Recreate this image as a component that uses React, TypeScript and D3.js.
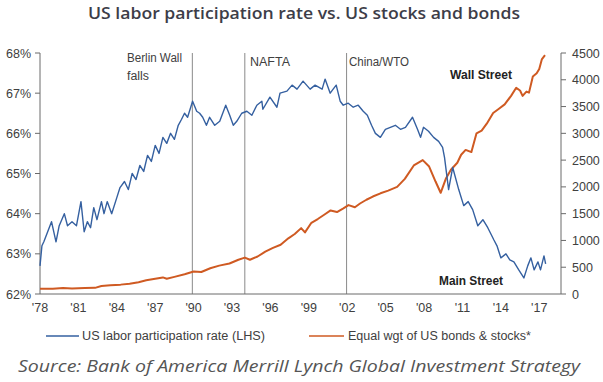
import React from "react";
import * as d3 from "d3";

const W = 603;
const H = 382;

const xTickYears = [1978, 1981, 1984, 1987, 1990, 1993, 1996, 1999, 2002, 2005, 2008, 2011, 2014, 2017];
const xTickLabels = ["'78", "'81", "'84", "'87", "'90", "'93", "'96", "'99", "'02", "'05", "'08", "'11", "'14", "'17"];
const leftTicks = [62, 63, 64, 65, 66, 67, 68];
const rightTicks = [0, 500, 1000, 1500, 2000, 2500, 3000, 3500, 4000, 4500];

const eventYears = [1989.9, 1994.0, 2001.95];

// US labor participation rate (%), [year, value]
const laborRate: [number, number][] = [
  [1978.0, 62.7], [1978.15, 63.2], [1978.3, 63.3], [1978.6, 63.55], [1978.9, 63.8],
  [1979.25, 63.3], [1979.5, 63.7], [1979.9, 64.0], [1980.15, 63.7], [1980.5, 63.8],
  [1980.85, 63.7], [1981.2, 64.3], [1981.45, 63.55], [1981.7, 63.8], [1981.95, 63.65],
  [1982.2, 64.15], [1982.45, 63.85], [1982.8, 64.3], [1983.0, 64.0], [1983.25, 64.3],
  [1983.6, 64.0], [1984.0, 64.4], [1984.25, 64.65], [1984.6, 64.8], [1984.9, 64.6],
  [1985.2, 65.0], [1985.5, 64.85], [1985.8, 65.2], [1986.1, 65.05], [1986.4, 65.45],
  [1986.7, 65.3], [1987.0, 65.7], [1987.3, 65.5], [1987.6, 65.9], [1987.9, 65.75],
  [1988.2, 66.0], [1988.5, 65.85], [1988.8, 66.2], [1989.06, 66.35], [1989.29, 66.5],
  [1989.53, 66.4], [1989.92, 66.8], [1990.24, 66.55], [1990.47, 66.5], [1990.71, 66.4],
  [1991.0, 66.2], [1991.25, 66.4], [1991.65, 66.2], [1992.04, 66.3], [1992.51, 66.7],
  [1992.82, 66.45], [1993.1, 66.2], [1993.37, 66.3], [1993.76, 66.5], [1994.16, 66.55],
  [1994.55, 66.45], [1994.94, 66.7], [1995.33, 66.8], [1995.41, 66.6], [1995.96, 66.9],
  [1996.51, 66.65], [1996.75, 67.0], [1997.29, 67.05], [1997.69, 67.2], [1998.08, 67.1],
  [1998.55, 67.3], [1999.1, 67.1], [1999.49, 67.2], [2000.04, 67.1], [2000.27, 67.35],
  [2000.67, 67.0], [2000.9, 67.1], [2001.14, 67.2], [2001.45, 66.8], [2001.69, 66.7],
  [2002.08, 66.75], [2002.47, 66.65], [2002.86, 66.7], [2003.25, 66.55], [2003.57, 66.45],
  [2003.9, 66.2], [2004.2, 66.0], [2004.59, 65.9], [2004.98, 66.1], [2005.37, 66.15],
  [2005.76, 66.2], [2006.16, 66.1], [2006.55, 66.15], [2007.1, 66.4], [2007.49, 66.1],
  [2007.73, 65.9], [2007.96, 66.15], [2008.35, 66.05], [2008.75, 65.9], [2009.14, 65.8],
  [2009.45, 65.65], [2009.6, 65.4], [2009.92, 64.6], [2010.24, 65.15], [2010.71, 64.6],
  [2011.1, 64.2], [2011.45, 64.3], [2011.8, 64.1], [2012.2, 63.7], [2012.6, 63.85],
  [2012.98, 63.65], [2013.45, 63.35], [2013.7, 63.2], [2014.0, 62.9], [2014.4, 63.0],
  [2014.7, 62.85], [2015.02, 62.8], [2015.4, 62.6], [2015.8, 62.4], [2016.1, 62.7],
  [2016.35, 62.9], [2016.6, 62.6], [2016.9, 62.8], [2017.1, 62.6], [2017.37, 62.95],
  [2017.5, 62.75],
];

// Equal weight of US bonds & stocks index, [year, value]
const bondsStocks: [number, number][] = [
  [1978.0, 100], [1979.0, 100], [1979.8, 110], [1980.5, 105], [1981.5, 110],
  [1982.3, 115], [1982.8, 150], [1983.5, 165], [1984.3, 175], [1985.0, 190],
  [1985.7, 220], [1986.3, 255], [1987.0, 285], [1987.6, 310], [1987.9, 285],
  [1988.5, 320], [1989.3, 370], [1990.0, 420], [1990.6, 410], [1991.3, 480],
  [1992.0, 530], [1992.8, 570], [1993.5, 640], [1994.0, 680], [1994.4, 640],
  [1995.0, 700], [1995.6, 790], [1996.2, 860], [1996.8, 920], [1997.4, 1040],
  [1997.9, 1120], [1998.4, 1230], [1998.7, 1150], [1999.2, 1330], [1999.7, 1400],
  [2000.2, 1480], [2000.7, 1560], [2001.2, 1530], [2001.7, 1600], [2002.1, 1660],
  [2002.6, 1620], [2003.0, 1690], [2003.5, 1760], [2004.0, 1820], [2004.6, 1880],
  [2005.2, 1930], [2005.9, 2000], [2006.5, 2150], [2007.2, 2400], [2007.9, 2500],
  [2008.4, 2380], [2008.9, 2100], [2009.3, 1890], [2009.7, 2150], [2010.1, 2320],
  [2010.6, 2450], [2010.9, 2600], [2011.25, 2690], [2011.7, 2650], [2012.1, 3000],
  [2012.5, 3050], [2012.9, 3180], [2013.4, 3380], [2013.8, 3450], [2014.3, 3540],
  [2014.8, 3700], [2015.2, 3850], [2015.5, 3800], [2015.7, 3700], [2016.0, 3780],
  [2016.2, 3760], [2016.5, 4060], [2016.8, 4120], [2017.0, 4200], [2017.2, 4380],
  [2017.45, 4460],
];

const seriesNames = ["US labor participation rate (LHS)", "Equal wgt of US bonds & stocks*"];
const eventLabels = [["Berlin Wall", "falls"], ["NAFTA"], ["China/WTO"]];

const BLUE = "#3560a0";
const ORANGE = "#cf5a22";
const AXIS = "#6a6a6a";
const TEXT = "#404040";
const SANS = "'Liberation Sans', Arial, sans-serif";

export default function App() {
  const left = 40, right = 561, top = 53, bottom = 294;
  const x = d3.scaleLinear().domain([1978, 2018.7]).range([left, right]);
  const yL = d3.scaleLinear().domain([62, 68]).range([bottom, top]);
  const yR = d3.scaleLinear().domain([0, 4500]).range([bottom, top]);

  const blueLine = d3.line<[number, number]>().x(d => x(d[0])).y(d => yL(d[1]))(laborRate) || "";
  const orangeLine = d3.line<[number, number]>().x(d => x(d[0])).y(d => yR(d[1]))(bondsStocks) || "";

  return (
    <svg width={W} height={H} style={{ position: "absolute", left: 0, top: 0, background: "#fff" }}>
      <text x={304} y={19} textAnchor="middle" fontFamily="'Open Sans', sans-serif" fontWeight={600}
        fontSize={17} fill="#3d3d48" textLength={432} lengthAdjust="spacingAndGlyphs">
        US labor participation rate vs. US stocks and bonds
      </text>

      {/* event lines */}
      {eventYears.map((yr, i) => (
        <line key={i} x1={x(yr)} x2={x(yr)} y1={top} y2={bottom} stroke="#8a8a8a" strokeWidth={1} />
      ))}
      <text x={127} y={62} fontFamily={SANS} fontSize={12} fill={TEXT} textLength={55} lengthAdjust="spacingAndGlyphs">{eventLabels[0][0]}</text>
      <text x={127} y={80} fontFamily={SANS} fontSize={12} fill={TEXT} textLength={22} lengthAdjust="spacingAndGlyphs">{eventLabels[0][1]}</text>
      <text x={250} y={66} fontFamily={SANS} fontSize={12} fill={TEXT} textLength={40} lengthAdjust="spacingAndGlyphs">{eventLabels[1][0]}</text>
      <text x={349} y={66} fontFamily={SANS} fontSize={12} fill={TEXT} textLength={60} lengthAdjust="spacingAndGlyphs">{eventLabels[2][0]}</text>

      {/* axes */}
      <line x1={left} x2={right} y1={bottom} y2={bottom} stroke={AXIS} strokeWidth={1} />
      <line x1={left} x2={left} y1={top} y2={bottom} stroke={AXIS} strokeWidth={1} />
      <line x1={right} x2={right} y1={top} y2={bottom} stroke={AXIS} strokeWidth={1} />
      {leftTicks.map(t => (
        <g key={"l" + t}>
          <line x1={left - 5} x2={left} y1={yL(t)} y2={yL(t)} stroke={AXIS} />
          <text x={31} y={yL(t) + 4.5} textAnchor="end" fontFamily={SANS} fontSize={12.5} fill={TEXT}>{t}%</text>
        </g>
      ))}
      {rightTicks.map(t => (
        <g key={"r" + t}>
          <line x1={right} x2={right + 5} y1={yR(t)} y2={yR(t)} stroke={AXIS} />
          <text x={572} y={yR(t) + 4.5} textAnchor="start" fontFamily={SANS} fontSize={12.5} fill={TEXT}>{t}</text>
        </g>
      ))}
      {xTickYears.map((yr, i) => (
        <text key={"x" + yr} x={x(yr)} y={312} textAnchor="middle" fontFamily={SANS} fontSize={12.5} fill={TEXT}>{xTickLabels[i]}</text>
      ))}

      {/* series */}
      <path d={orangeLine} fill="none" stroke={ORANGE} strokeWidth={2} strokeLinejoin="round" />
      <path d={blueLine} fill="none" stroke={BLUE} strokeWidth={1.4} strokeLinejoin="round" />

      <text x={450} y={79} fontFamily={SANS} fontWeight="bold" fontSize={12} fill="#222" textLength={62} lengthAdjust="spacingAndGlyphs">Wall Street</text>
      <text x={439} y={285} fontFamily={SANS} fontWeight="bold" fontSize={12} fill="#222" textLength={64} lengthAdjust="spacingAndGlyphs">Main Street</text>

      {/* legend */}
      <line x1={46} x2={79} y1={336} y2={336} stroke={BLUE} strokeWidth={1.5} />
      <text x={82} y={340} fontFamily={SANS} fontSize={12} fill={TEXT} textLength={183} lengthAdjust="spacingAndGlyphs">{seriesNames[0]}</text>
      <line x1={309} x2={344} y1={336} y2={336} stroke={ORANGE} strokeWidth={1.5} />
      <text x={348} y={340} fontFamily={SANS} fontSize={12} fill={TEXT} textLength={183} lengthAdjust="spacingAndGlyphs">{seriesNames[1]}</text>

      <text x={18} y={372} fontFamily="'Open Sans', sans-serif" fontStyle="italic" fontSize={17} fill="#555"
        textLength={562} lengthAdjust="spacingAndGlyphs">
        Source: Bank of America Merrill Lynch Global Investment Strategy
      </text>
    </svg>
  );
}
